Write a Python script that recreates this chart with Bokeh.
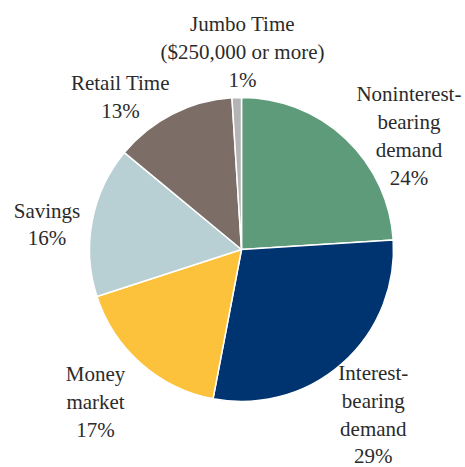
import math
from bokeh.plotting import figure
from bokeh.models import Range1d, ColumnDataSource
from bokeh.core.properties import value
from bokeh.embed import file_html
from bokeh.resources import INLINE

# Data
categories = ["Noninterest-\nbearing\ndemand", "Interest-\nbearing\ndemand", "Money\nmarket",
              "Savings", "Retail Time", "Jumbo Time\n($250,000 or more)"]
shares = [24, 29, 17, 16, 13, 1]
colors = ["#5e9b7b", "#003470", "#fcc23c", "#b8cfd4", "#7c6e66", "#b4b4b4"]

# label placement (distance from centre in radii, angular nudge in degrees)
label_dist = [1.33, 1.39, 1.39, 1.29, 1.28, 1.30]
label_nudge = [12.7, 2.8, 2.3, -3.5, -11.5, 2.1]

W, H = 465, 467
cx_px, cy_px, R_px = 241, 249, 152

total = float(sum(shares))
starts, ends, lx, ly, texts = [], [], [], [], []
cum = 0.0
for i, s in enumerate(shares):
    f0 = cum / total
    f1 = (cum + s) / total
    starts.append(math.pi / 2 - 2 * math.pi * f0)
    ends.append(math.pi / 2 - 2 * math.pi * f1)
    mid = (f0 + f1) / 2 * 360 + label_nudge[i]
    th = math.radians(mid)
    lx.append(label_dist[i] * math.sin(th))
    ly.append(label_dist[i] * math.cos(th))
    texts.append(f"{categories[i]}\n{s}%")
    cum += s

p = figure(width=W, height=H, output_backend="svg", toolbar_location=None,
           x_range=Range1d(-cx_px / R_px, (W - cx_px) / R_px),
           y_range=Range1d(-(H - cy_px) / R_px, cy_px / R_px),
           min_border=0, outline_line_color=None)
p.axis.visible = False
p.grid.visible = False
p.background_fill_color = "white"
p.border_fill_color = "white"

src = ColumnDataSource(dict(start=starts, end=ends, color=colors))
p.wedge(x=0, y=0, radius=1, start_angle="start", end_angle="end", direction="clock",
        fill_color="color", line_color="white", line_width=1.5, source=src)

lsrc = ColumnDataSource(dict(x=lx, y=ly, t=texts))
p.text(x="x", y="y", text="t", source=lsrc, text_align="center", text_baseline="middle",
       text_font=value("Liberation Serif"), text_font_size="21px", text_color="#2b2b2b",
       text_line_height=1.16)

open("out.html", "w").write(file_html(p, INLINE))
